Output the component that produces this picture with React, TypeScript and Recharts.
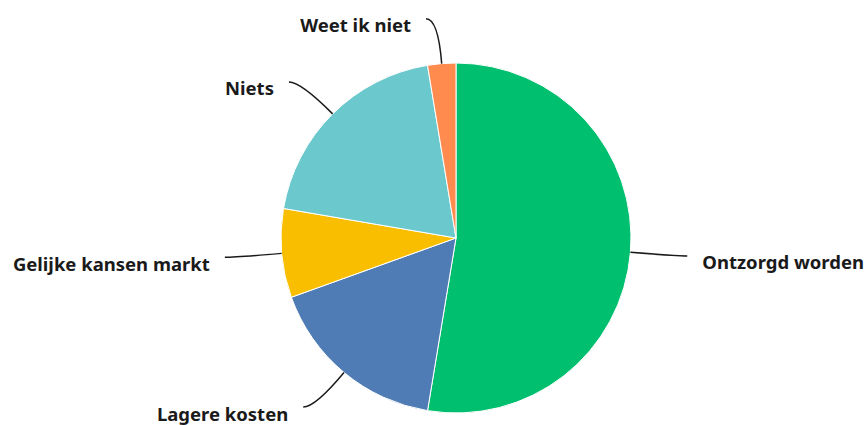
import { PieChart, Pie, Cell } from "recharts";

const categories = [
  "Ontzorgd worden",
  "Lagere kosten",
  "Gelijke kansen markt",
  "Niets",
  "Weet ik niet",
];
const shares = [52.6, 16.9, 8.2, 19.7, 2.6];
const colors = ["#00BF6F", "#507CB6", "#F9BE00", "#6BC8CD", "#FF8B4F"];

const data = categories.map((name, i) => ({ name, value: shares[i] }));

const RAD = Math.PI / 180;

function renderLabel(props: any) {
  const { cx, cy, midAngle, outerRadius, name } = props;
  const cos = Math.cos(-midAngle * RAD);
  const sin = Math.sin(-midAngle * RAD);
  const sx = cx + outerRadius * cos;
  const sy = cy + outerRadius * sin;
  const mx = cx + (outerRadius + 45) * cos;
  const my = cy + (outerRadius + 45) * sin;
  const right = cos >= 0;
  const ex = mx + (right ? 12 : -12);
  const ey = my;
  return (
    <g>
      <path
        d={`M${sx},${sy} Q${mx},${my} ${ex},${ey}`}
        stroke="#1a1a1a"
        strokeWidth={1.5}
        fill="none"
      />
      <text
        x={ex + (right ? 15 : -15)}
        y={ey + 6}
        textAnchor={right ? "start" : "end"}
        dominantBaseline="central"
        fill="#1a1a1a"
        fontSize={18.5}
        fontWeight="bold"
        fontFamily="'Noto Sans', sans-serif"
      >
        {name}
      </text>
    </g>
  );
}

export default function App() {
  return (
    <div style={{ position: "absolute", left: 0, top: 0, background: "#fff" }}>
      <PieChart
        width={867}
        height={425}
        margin={{ top: 0, right: 0, bottom: 0, left: 0 }}
      >
        <Pie
          data={data}
          dataKey="value"
          nameKey="name"
          cx={456}
          cy={238}
          outerRadius={175}
          startAngle={90}
          endAngle={-270}
          stroke="#fff"
          strokeWidth={1}
          label={renderLabel}
          labelLine={false}
          isAnimationActive={false}
        >
          {data.map((d, i) => (
            <Cell key={d.name} fill={colors[i]} />
          ))}
        </Pie>
      </PieChart>
    </div>
  );
}
